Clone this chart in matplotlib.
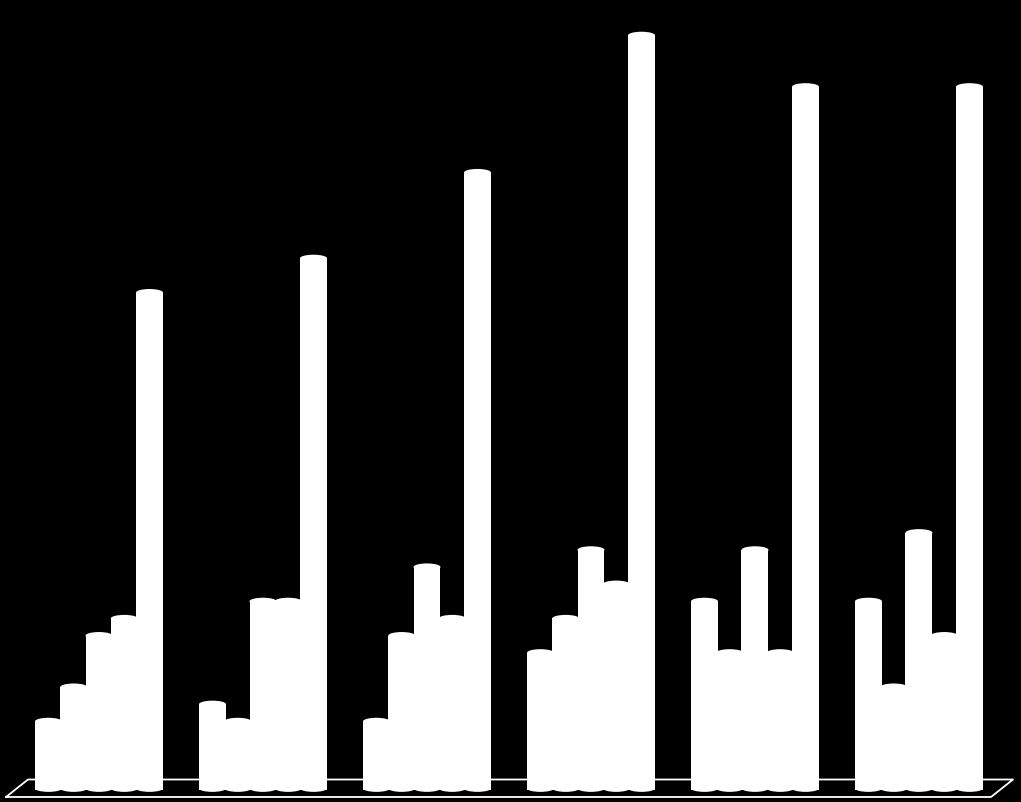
"""White 3D-style cylinder columns on black, six groups of five series."""

import matplotlib

matplotlib.use("Agg")

import matplotlib.pyplot as plt
import numpy as np
from matplotlib.patches import Ellipse

# values, no axis labels in the reference
series_a = [4, 5, 4, 8, 11, 11]
series_b = [6, 4, 9, 10, 8, 6]
series_c = [9, 11, 13, 14, 14, 15]
series_d = [10, 11, 10, 12, 8, 9]
series_e = [29, 31, 36, 44, 41, 41]

WIDTH_PX, HEIGHT_PX = 1021, 802
# neighbouring cylinders overlap a little, so the width is above the pitch
BAR_PITCH = 0.154
BAR_WIDTH = 0.1646
CAP_HEIGHT = 0.42


def px_to_axes(x, y):
    """Pixel position in the image to axes fraction."""
    return np.asarray(x) / WIDTH_PX, 1 - np.asarray(y) / HEIGHT_PX


fig = plt.figure(figsize=(WIDTH_PX / 100, HEIGHT_PX / 100), dpi=100, facecolor="black")
ax = fig.add_axes([0, 0, 1, 1], facecolor="black")
ax.set_xlim(-0.6037, 5.622)
ax.set_ylim(-0.70, 46.06)
ax.axis("off")

# floor outline
floor_x, floor_y = px_to_axes([6, 28, 1013, 991, 6], [797, 779.5, 779.5, 797, 797])
ax.plot(floor_x, floor_y, color="white", lw=1.3, transform=ax.transAxes, zorder=1)

groups = np.arange(6)
all_series = [series_a, series_b, series_c, series_d, series_e]
for i, values in enumerate(all_series):
    xpos = groups + (i - 2) * BAR_PITCH
    ax.bar(xpos, values, width=BAR_WIDTH, color="white", linewidth=0, zorder=2)
    for x, v in zip(xpos, values):
        # top and bottom caps of the cylinder
        for y in (v, 0.1):
            ax.add_patch(
                Ellipse((x, y), BAR_WIDTH, CAP_HEIGHT, facecolor="white", linewidth=0, zorder=2)
            )

fig.savefig("out.png", dpi=100, facecolor="black")
